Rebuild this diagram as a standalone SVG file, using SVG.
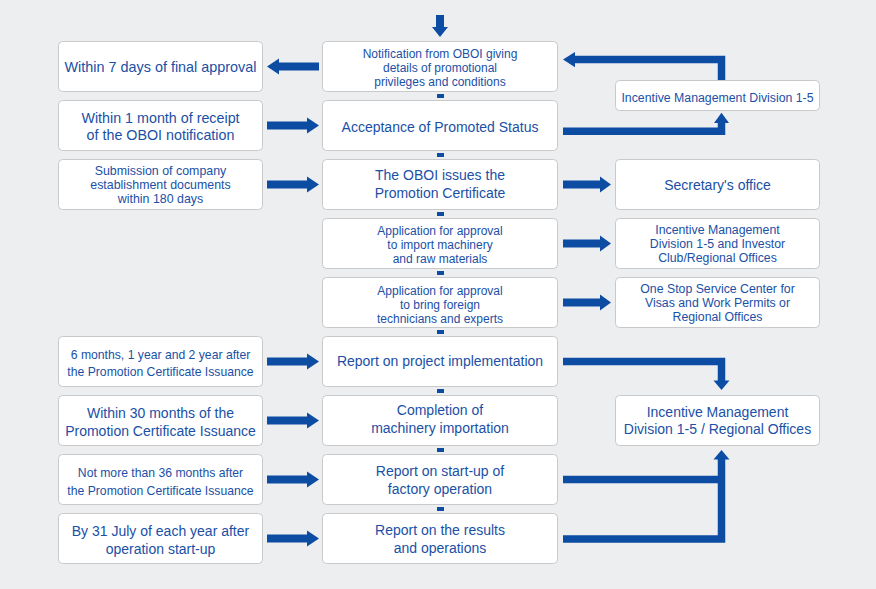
<svg xmlns="http://www.w3.org/2000/svg" width="876" height="589" viewBox="0 0 876 589">
<style>
.bg{fill:#edeef0}
.box{fill:#ffffff;stroke:#c8c9cb;stroke-width:1}
text{font-family:"Liberation Sans",Arial,sans-serif;fill:#1a50a6;text-anchor:middle}
.ln{fill:none;stroke:#0d4ca3;stroke-width:7.5;stroke-linejoin:miter}
.ah{fill:#0d4ca3}
</style>
<rect class="bg" x="0" y="0" width="876" height="589"/>

<g id="connectors">
  <!-- top entry arrow -->
  <polygon class="ah" points="436,15 444,15 444,27 448,27 440,37 432,27 436,27"/>
  <!-- small links between middle boxes -->
  <rect class="ah" x="437" y="94" width="7" height="4"/>
  <rect class="ah" x="437" y="153" width="7" height="4"/>
  <rect class="ah" x="437" y="212" width="7" height="4"/>
  <rect class="ah" x="437" y="271" width="7" height="4"/>
  <rect class="ah" x="437" y="330" width="7" height="4"/>
  <rect class="ah" x="437" y="389" width="7" height="4"/>
  <rect class="ah" x="437" y="448" width="7" height="4"/>
  <rect class="ah" x="437" y="507" width="7" height="4"/>
  <!-- middle row1 -> left row1 -->
  <polygon class="ah" points="319,62.5 279,62.5 279,58.5 267,66.5 279,74.5 279,70.5 319,70.5"/>
  <!-- left -> middle arrows -->
  <polygon class="ah" points="267,121.5 307,121.5 307,117.5 319,125.5 307,133.5 307,129.5 267,129.5"/>
  <polygon class="ah" points="267,180.5 307,180.5 307,176.5 319,184.5 307,192.5 307,188.5 267,188.5"/>
  <polygon class="ah" points="267,357.5 307,357.5 307,353.5 319,361.5 307,369.5 307,365.5 267,365.5"/>
  <polygon class="ah" points="267,416.5 307,416.5 307,412.5 319,420.5 307,428.5 307,424.5 267,424.5"/>
  <polygon class="ah" points="267,475.5 307,475.5 307,471.5 319,479.5 307,487.5 307,483.5 267,483.5"/>
  <polygon class="ah" points="267,534.5 307,534.5 307,530.5 319,538.5 307,546.5 307,542.5 267,542.5"/>
  <!-- middle -> right arrows -->
  <polygon class="ah" points="563,180.5 600,180.5 600,176.5 611,184.5 600,192.5 600,188.5 563,188.5"/>
  <polygon class="ah" points="563,239.5 600,239.5 600,235.5 611,243.5 600,251.5 600,247.5 563,247.5"/>
  <polygon class="ah" points="563,298.5 600,298.5 600,294.5 611,302.5 600,310.5 600,306.5 563,306.5"/>
  <!-- Incentive 1-5 -> Notification -->
  <path class="ln" d="M721.5,80.5 V59.6 H574"/>
  <polygon class="ah" points="575,52 563,59.6 575,67.2"/>
  <!-- Acceptance -> Incentive 1-5 -->
  <path class="ln" d="M563,131.3 H721.5 V122"/>
  <polygon class="ah" points="714,123 721.5,112.7 729,123"/>
  <!-- Report on project implementation -> Incentive / Regional -->
  <path class="ln" d="M563,361.5 H721.5 V381"/>
  <polygon class="ah" points="713.5,380.5 721.5,390 729.5,380.5"/>
  <!-- start-up & results -> Incentive / Regional -->
  <path class="ln" d="M563,479.5 H721.5"/>
  <path class="ln" d="M563,539 H721.5 V459"/>
  <polygon class="ah" points="713.5,459.5 721.5,450 729.5,459.5"/>
</g>

<g id="n-left1"><rect class="box" x="58.5" y="41.5" width="204" height="50" rx="4"/>
  <text x="160.5" y="72" font-size="14.4">Within 7 days of final approval</text></g>
<g id="n-left2"><rect class="box" x="58.5" y="100.5" width="204" height="50" rx="4"/>
  <text x="160.5" y="122.5" font-size="14.3">Within 1 month of receipt</text>
  <text x="160.5" y="140" font-size="14.3">of the OBOI notification</text></g>
<g id="n-left3"><rect class="box" x="58.5" y="159.5" width="204" height="50" rx="4"/>
  <text x="160.5" y="175" font-size="12.4">Submission of company</text>
  <text x="160.5" y="189" font-size="12.4">establishment documents</text>
  <text x="160.5" y="202.5" font-size="12.4">within 180 days</text></g>
<g id="n-left6"><rect class="box" x="58.5" y="336.5" width="204" height="50" rx="4"/>
  <text x="160.5" y="358.5" font-size="12.2">6 months, 1 year and 2 year after</text>
  <text x="160.5" y="376" font-size="12.2">the Promotion Certificate Issuance</text></g>
<g id="n-left7"><rect class="box" x="58.5" y="395.5" width="204" height="50" rx="4"/>
  <text x="160.5" y="417.5" font-size="14">Within 30 months of the</text>
  <text x="160.5" y="435.5" font-size="14">Promotion Certificate Issuance</text></g>
<g id="n-left8"><rect class="box" x="58.5" y="454.5" width="204" height="50" rx="4"/>
  <text x="160.5" y="477" font-size="12.2">Not more than 36 months after</text>
  <text x="160.5" y="495" font-size="12.2">the Promotion Certificate Issuance</text></g>
<g id="n-left9"><rect class="box" x="58.5" y="513.5" width="204" height="50" rx="4"/>
  <text x="160.5" y="536" font-size="14">By 31 July of each year after</text>
  <text x="160.5" y="554" font-size="14">operation start-up</text></g>

<g id="n-mid1"><rect class="box" x="322.5" y="41.5" width="235" height="50" rx="4"/>
  <text x="440" y="57.5" font-size="12">Notification from OBOI giving</text>
  <text x="440" y="71.5" font-size="12">details of promotional</text>
  <text x="440" y="85.5" font-size="12">privileges and conditions</text></g>
<g id="n-mid2"><rect class="box" x="322.5" y="100.5" width="235" height="50" rx="4"/>
  <text x="440" y="132" font-size="14">Acceptance of Promoted Status</text></g>
<g id="n-mid3"><rect class="box" x="322.5" y="159.5" width="235" height="50" rx="4"/>
  <text x="440" y="180" font-size="14">The OBOI issues the</text>
  <text x="440" y="197.5" font-size="14">Promotion Certificate</text></g>
<g id="n-mid4"><rect class="box" x="322.5" y="218.5" width="235" height="50" rx="4"/>
  <text x="440" y="235" font-size="12">Application for approval</text>
  <text x="440" y="249" font-size="12">to import machinery</text>
  <text x="440" y="263" font-size="12">and raw materials</text></g>
<g id="n-mid5"><rect class="box" x="322.5" y="277.5" width="235" height="50" rx="4"/>
  <text x="440" y="294.5" font-size="12">Application for approval</text>
  <text x="440" y="308.5" font-size="12">to bring foreign</text>
  <text x="440" y="322.5" font-size="12">technicians and experts</text></g>
<g id="n-mid6"><rect class="box" x="322.5" y="336.5" width="235" height="50" rx="4"/>
  <text x="440" y="366" font-size="14">Report on project implementation</text></g>
<g id="n-mid7"><rect class="box" x="322.5" y="395.5" width="235" height="50" rx="4"/>
  <text x="440" y="415" font-size="14">Completion of</text>
  <text x="440" y="432.5" font-size="14">machinery importation</text></g>
<g id="n-mid8"><rect class="box" x="322.5" y="454.5" width="235" height="50" rx="4"/>
  <text x="440" y="476" font-size="14">Report on start-up of</text>
  <text x="440" y="494" font-size="14">factory operation</text></g>
<g id="n-mid9"><rect class="box" x="322.5" y="513.5" width="235" height="50" rx="4"/>
  <text x="440" y="535" font-size="14">Report on the results</text>
  <text x="440" y="552.5" font-size="14">and operations</text></g>

<g id="n-imd"><rect class="box" x="615.5" y="80.5" width="204" height="30" rx="4"/>
  <text x="717.5" y="102" font-size="12.3">Incentive Management Division 1-5</text></g>
<g id="n-secretary"><rect class="box" x="615.5" y="159.5" width="204" height="50" rx="4"/>
  <text x="717.5" y="190" font-size="14">Secretary's office</text></g>
<g id="n-imd-investor"><rect class="box" x="615.5" y="218.5" width="204" height="50" rx="4"/>
  <text x="717.5" y="234" font-size="12.3">Incentive Management</text>
  <text x="717.5" y="248" font-size="12.3">Division 1-5 and Investor</text>
  <text x="717.5" y="261.5" font-size="12.3">Club/Regional Offices</text></g>
<g id="n-onestop"><rect class="box" x="615.5" y="277.5" width="204" height="50" rx="4"/>
  <text x="717.5" y="292.5" font-size="12.3">One Stop Service Center for</text>
  <text x="717.5" y="306.5" font-size="12.3">Visas and Work Permits or</text>
  <text x="717.5" y="320.5" font-size="12.3">Regional Offices</text></g>
<g id="n-imd-regional"><rect class="box" x="615.5" y="395.5" width="204" height="50" rx="4"/>
  <text x="717.5" y="416.5" font-size="14">Incentive Management</text>
  <text x="717.5" y="434" font-size="14">Division 1-5 / Regional Offices</text></g>
</svg>
